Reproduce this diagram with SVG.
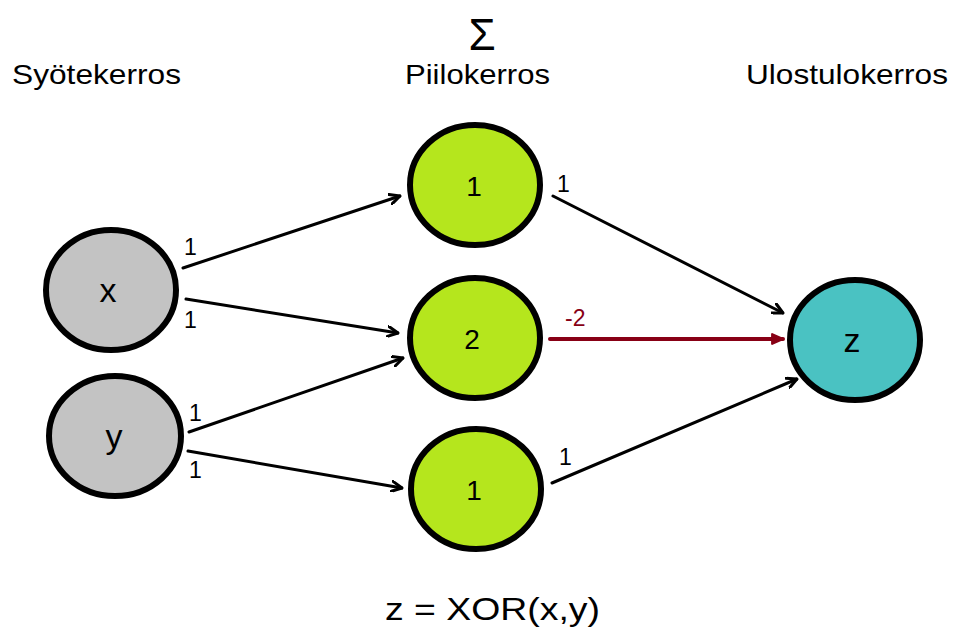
<svg xmlns="http://www.w3.org/2000/svg" width="957" height="630" viewBox="0 0 957 630">
  <defs>
    <marker id="open" viewBox="0 0 12 12" refX="11" refY="6" markerWidth="12" markerHeight="12" markerUnits="userSpaceOnUse" orient="auto">
      <path d="M1,1 L11,6 L1,11" fill="none" stroke="#000" stroke-width="3" stroke-linecap="round" stroke-linejoin="round"/>
    </marker>
    <marker id="solid" viewBox="0 0 12 12" refX="11" refY="6" markerWidth="13" markerHeight="13" markerUnits="userSpaceOnUse" orient="auto">
      <path d="M1,1.5 L11,6 L1,10.5 Z" fill="#880015" stroke="#880015" stroke-width="2" stroke-linejoin="round"/>
    </marker>
  </defs>
  <style>
    text { font-family: "Liberation Sans", Arial, sans-serif; fill: #000; }
    .head { font-size: 28px; }
    .w { font-size: 23px; }
    .node ellipse { stroke: #000; stroke-width: 6; }
    .in ellipse { fill: #c3c3c3; }
    .hid ellipse { fill: #b5e61d; }
    .out ellipse { fill: #4ac2c2; }
    .lbl { font-size: 34px; text-anchor: middle; }
    .num { font-size: 28px; text-anchor: middle; }
    .edge { stroke: #000; stroke-width: 3; fill: none; marker-end: url(#open); stroke-linecap: round; }
    .neg { stroke: #880015; stroke-width: 4; fill: none; marker-end: url(#solid); stroke-linecap: round; }
  </style>
  <rect width="957" height="630" fill="#fff"/>

  <!-- layer headings -->
  <text x="482" y="50" font-size="44" text-anchor="middle" font-family="DejaVu Sans, sans-serif">Σ</text>
  <text class="head" x="12" y="84" textLength="169" lengthAdjust="spacingAndGlyphs">Syötekerros</text>
  <text class="head" x="405" y="84" textLength="145" lengthAdjust="spacingAndGlyphs">Piilokerros</text>
  <text class="head" x="746" y="84" textLength="202" lengthAdjust="spacingAndGlyphs">Ulostulokerros</text>

  <!-- connectors -->
  <g id="connectors">
    <line class="edge" x1="183" y1="268" x2="400" y2="196"/>
    <line class="edge" x1="186" y1="299" x2="398" y2="333"/>
    <line class="edge" x1="189" y1="432" x2="403" y2="358"/>
    <line class="edge" x1="188" y1="451" x2="402" y2="488"/>
    <line class="edge" x1="553" y1="196" x2="783" y2="313"/>
    <line class="neg" x1="550" y1="339" x2="783" y2="339"/>
    <line class="edge" x1="552" y1="483" x2="797" y2="379"/>
    <text class="w" x="184" y="255">1</text>
    <text class="w" x="184" y="328">1</text>
    <text class="w" x="189" y="421">1</text>
    <text class="w" x="189" y="478">1</text>
    <text class="w" x="557" y="192">1</text>
    <text class="w" x="565" y="326" fill="#880015" style="fill:#880015">-2</text>
    <text class="w" x="559" y="465">1</text>
  </g>

  <!-- input layer -->
  <g id="node-x" class="node in">
    <ellipse cx="111" cy="290" rx="65" ry="60"/>
    <text class="lbl" x="108" y="302">x</text>
  </g>
  <g id="node-y" class="node in">
    <ellipse cx="115" cy="436" rx="66" ry="60"/>
    <text class="lbl" x="114" y="448">y</text>
  </g>

  <!-- hidden layer -->
  <g id="node-h1" class="node hid">
    <ellipse cx="475" cy="185" rx="65" ry="60"/>
    <text class="num" x="474" y="196">1</text>
  </g>
  <g id="node-h2" class="node hid">
    <ellipse cx="475" cy="338" rx="65" ry="60"/>
    <text class="num" x="472" y="349">2</text>
  </g>
  <g id="node-h3" class="node hid">
    <ellipse cx="476" cy="489" rx="65" ry="60"/>
    <text class="num" x="474" y="500">1</text>
  </g>

  <!-- output layer -->
  <g id="node-z" class="node out">
    <ellipse cx="855" cy="340" rx="65" ry="60"/>
    <text class="lbl" x="852" y="352">z</text>
  </g>

  <text x="385" y="620" font-size="31" textLength="215" lengthAdjust="spacingAndGlyphs">z = XOR(x,y)</text>
</svg>
